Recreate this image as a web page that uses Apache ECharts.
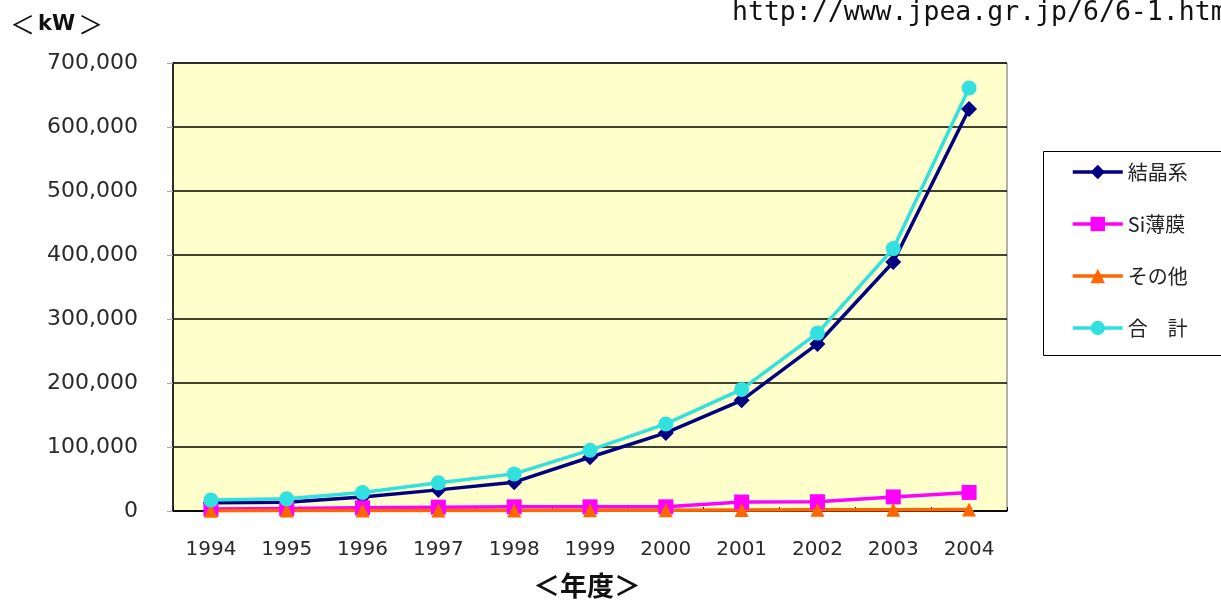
<!DOCTYPE html>
<html>
<head>
<meta charset="utf-8">
<script src="https://cdn.jsdelivr.net/npm/echarts@6/dist/echarts.min.js"></script>
<style>
  html, body { margin: 0; padding: 0; background: #ffffff; }
  #chart { width: 1221px; height: 600px; }
</style>
</head>
<body>
<div id="chart"></div>
<script>
// 年度別 太陽電池 出荷量 (kW)
const years = ['1994', '1995', '1996', '1997', '1998', '1999', '2000', '2001', '2002', '2003', '2004'];
const crystalline = [13000, 13500, 22000, 33000, 45000, 84000, 122000, 173000, 261000, 389000, 628000];
const siThinFilm = [3000, 4000, 5000, 6000, 6500, 6500, 6500, 14000, 14500, 22000, 29000];
const others = [500, 600, 700, 800, 900, 1000, 1200, 1500, 1800, 2000, 2500];
const totals = [17000, 19000, 29000, 44000, 58000, 95000, 136000, 190000, 278000, 410000, 661000];
const yTicks = [0, 100000, 200000, 300000, 400000, 500000, 600000, 700000];

const seriesNames = ['結晶系', 'Si薄膜', 'その他', '合　計'];

const chart = echarts.init(document.getElementById('chart'), null, { renderer: 'canvas' });

const numFont = 'DejaVu Sans';
const jpFont = '"Noto Sans CJK JP", "DejaVu Sans"';

function lineSeries(name, data, color, symbol, size) {
  return {
    name: name,
    type: 'line',
    data: data,
    symbol: symbol,
    symbolSize: size,
    lineStyle: { color: color, width: 3.5 },
    itemStyle: { color: color },
    emphasis: { disabled: true },
    animation: false
  };
}

chart.setOption({
  animation: false,
  backgroundColor: '#ffffff',
  grid: {
    left: 173, right: 214, top: 63, bottom: 89,
    show: true,
    backgroundColor: '#FFFFCC',
    borderColor: '#666666',
    borderWidth: 1
  },
  xAxis: {
    type: 'category',
    data: years,
    boundaryGap: true,
    axisLine: { lineStyle: { color: '#000000', width: 1.5 } },
    axisTick: { show: true, inside: true, length: 4, lineStyle: { color: '#000000' } },
    axisLabel: { color: '#2a2a2a', fontFamily: numFont, fontSize: 20, margin: 29 },
    splitLine: { show: false }
  },
  yAxis: {
    type: 'value',
    min: yTicks[0],
    max: yTicks[yTicks.length - 1],
    interval: yTicks[1] - yTicks[0],
    axisLine: { show: true, lineStyle: { color: '#000000', width: 1.5 } },
    axisTick: { show: true, length: 6, lineStyle: { color: '#aaaaaa' } },
    axisLabel: {
      color: '#2a2a2a', fontFamily: numFont, fontSize: 22, margin: 35,
      formatter: v => v.toLocaleString('en-US')
    },
    splitLine: { show: true, lineStyle: { color: '#000000', width: 1.5 } }
  },
  legend: {
    orient: 'vertical',
    left: 1066,
    top: 157,
    itemWidth: 50,
    itemHeight: 18,
    itemGap: 32,
    lineStyle: { width: 3.5 },
    textStyle: { fontFamily: jpFont, fontSize: 20, color: '#222222' },
    data: seriesNames
  },
  graphic: [
    {
      type: 'rect',
      shape: { x: 1043.5, y: 151.5, width: 200, height: 204 },
      style: { fill: 'none', stroke: '#000000', lineWidth: 1 },
      z: -1
    },
    {
      type: 'text',
      left: 10, top: 12,
      style: {
        text: '{b|＜}{k|kW}{b|＞}',
        rich: {
          b: { fontFamily: jpFont, fontSize: 25, fill: '#111111' },
          k: { fontFamily: 'DejaVu Sans', fontSize: 21, fontWeight: 'bold', fill: '#111111', padding: [0, 3, 0, 3] }
        }
      }
    },
    {
      type: 'text',
      left: 732, top: 0,
      style: {
        text: 'http://www.jpea.gr.jp/6/6-1.htm',
        fontFamily: 'DejaVu Sans Mono',
        fontSize: 26.5,
        fill: '#111111'
      }
    },
    {
      type: 'text',
      x: 587, y: 586,
      style: {
        text: '＜年度＞',
        fontFamily: jpFont,
        fontSize: 27,
        fontWeight: 'bold',
        fill: '#111111',
        align: 'center',
        verticalAlign: 'middle'
      }
    }
  ],
  series: [
    lineSeries(seriesNames[0], crystalline, '#000080', 'diamond', 16),
    lineSeries(seriesNames[1], siThinFilm, '#FF00FF', 'rect', 15),
    lineSeries(seriesNames[2], others, '#FF6600', 'triangle', 14),
    lineSeries(seriesNames[3], totals, '#33E0E0', 'circle', 15)
  ]
});
</script>
</body>
</html>
